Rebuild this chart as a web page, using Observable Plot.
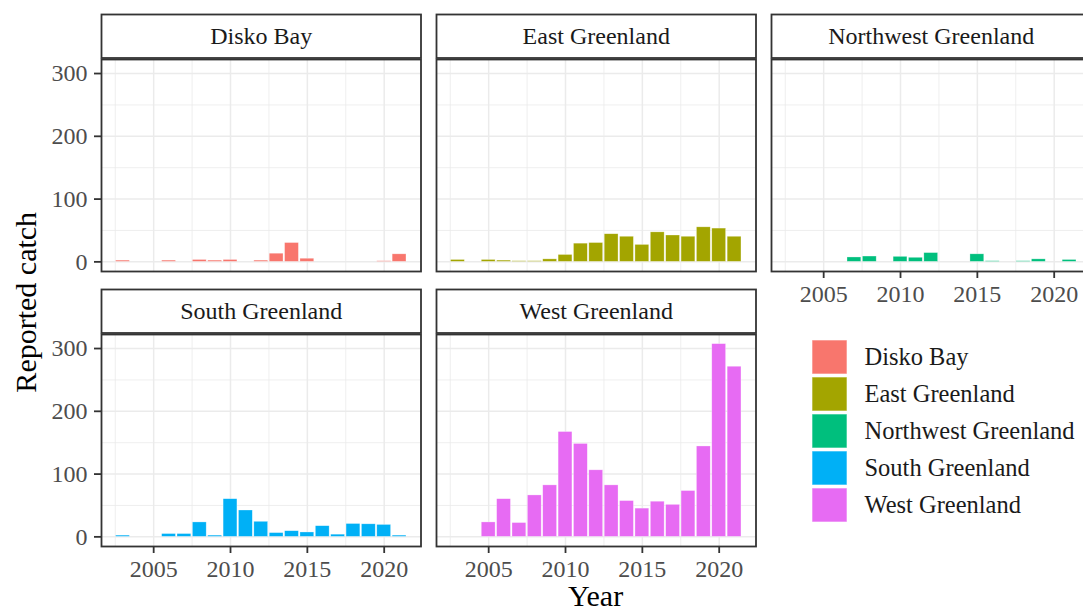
<!DOCTYPE html>
<html>
<head>
<meta charset="utf-8">
<script src="https://cdn.jsdelivr.net/npm/d3@7"></script>
<script src="https://cdn.jsdelivr.net/npm/@observablehq/plot@0.6"></script>
<style>
  html, body { margin: 0; padding: 0; background: #fff; overflow: hidden; }
  #chart { position: relative; width: 1083px; height: 611px; overflow: hidden;
           font-family: "Liberation Serif", "Times New Roman", serif; }
  #chart svg { position: absolute; overflow: visible; }
</style>
</head>
<body>
<div id="chart"></div>
<script>
// Reported catch by region and year
const years = [2003, 2004, 2005, 2006, 2007, 2008, 2009, 2010, 2011, 2012,
               2013, 2014, 2015, 2016, 2017, 2018, 2019, 2020, 2021];
const regions = ["Disko Bay", "East Greenland", "Northwest Greenland", "South Greenland", "West Greenland"];
const colors = ["#F8766D", "#A3A500", "#00BF7D", "#00B0F6", "#E76BF3"];

const diskoBay           = [2, null, null, 2, null, 3, 2, 3, null, 2, 13, 30, 5, null, null, null, null, 1, 12];
const eastGreenland      = [3, null, 3, 2, 1, 1, 4, 11, 29, 30, 44, 40, 27, 47, 42, 40, 55, 53, 40];
const northwestGreenland = [null, null, null, null, 7, 8.5, null, 8, 6.5, 14, null, null, 12, 1, null, 1, 4, null, 3];
const southGreenland     = [2, null, null, 4.5, 4.5, 23, 2, 60, 42, 24, 6, 9, 7, 17, 3.5, 20.5, 20, 19, 2];
const westGreenland      = [null, null, 23, 60, 22, 66, 82, 167, 148, 106, 82, 57, 45, 56, 51, 73, 144, 307, 271];
const series = [diskoBay, eastGreenland, northwestGreenland, southGreenland, westGreenland];

// axis ticks and grid lines
const yTicks = [0, 100, 200, 300];
const yMinor = [50, 150, 250];
const xTicks = [2005, 2010, 2015, 2020];
const xMinor = [2002.5, 2007.5, 2012.5, 2017.5];

// shared scales: bar width 0.9 year, 5% padding on both axes
const barHalf = 0.45;
const xLo = d3.min(years) - barHalf, xHi = d3.max(years) + barHalf;
const xPad = (xHi - xLo) * 0.05;
const xDomain = [xLo - xPad, xHi + xPad];
const yMax = d3.max(series.flat());
const yDomain = [-yMax * 0.05, yMax * 1.05];

// panel grid layout (3 columns, wrapped)
const panelW = 319.5, panelH = 212, stripH = 45;
const panelLeft = c => 100.5 + c * 335.3;
const panelTop = [59, 333.5];
const mT = 50, mB = 50;

const chart = document.getElementById("chart");
const ink = "#333333";

regions.forEach((name, i) => {
  const row = Math.floor(i / 3), col = i % 3;
  const mL = col === 0 ? 60 : 8, mR = 8;
  const data = years.map((year, j) => ({year, value: series[i][j]})).filter(d => d.value != null);
  const showY = col === 0;
  const showX = row === 1 || i + 3 >= regions.length;

  const marks = [
    // strip header box
    Plot.frame({fill: "white", stroke: ink, strokeWidth: 1.8, insetTop: -stripH, insetBottom: panelH + 1.5}),
    Plot.ruleY(yMinor, {stroke: "#EBEBEB", strokeWidth: 0.8}),
    Plot.ruleX(xMinor, {stroke: "#EBEBEB", strokeWidth: 0.8}),
    Plot.ruleY(yTicks, {stroke: "#EBEBEB", strokeWidth: 1.5}),
    Plot.ruleX(xTicks, {stroke: "#EBEBEB", strokeWidth: 1.5}),
    Plot.rect(data, {
      x1: d => d.year - barHalf, x2: d => d.year + barHalf,
      y1: 0, y2: "value",
      fill: colors[i], stroke: "white", strokeWidth: 0.6, strokeOpacity: 0.5
    }),
    Plot.frame({stroke: ink, strokeWidth: 1.8}),
    Plot.text([name], {frameAnchor: "top", lineAnchor: "middle", dy: -stripH / 2 - 1, fontSize: 24, fill: "#1A1A1A", text: d => d})
  ];
  if (showY) marks.push(Plot.axisY({
    ticks: yTicks, tickSize: 7, tickPadding: 7, fontSize: 24,
    fill: "#4D4D4D", stroke: ink, strokeWidth: 1.8, label: null
  }));
  if (showX) marks.push(Plot.axisX({
    ticks: xTicks, tickSize: 7, tickPadding: 6, fontSize: 24, tickFormat: d => String(d),
    fill: "#4D4D4D", stroke: ink, strokeWidth: 1.8, label: null
  }));

  const svg = Plot.plot({
    width: panelW + mL + mR,
    height: panelH + mT + mB,
    marginLeft: mL, marginRight: mR, marginTop: mT, marginBottom: mB,
    x: {domain: xDomain, axis: null},
    y: {domain: yDomain, axis: null},
    style: {background: "transparent", overflow: "visible", fontFamily: "Liberation Serif", maxWidth: "none"},
    marks
  });
  svg.style.left = (panelLeft(col) - mL) + "px";
  svg.style.top = (panelTop[row] - mT) + "px";
  chart.appendChild(svg);
});

// legend: one swatch per region
const keyStep = 37.85, keySize = 34.4;
const legend = Plot.plot({
  width: 35 + 240, height: keyStep * (regions.length - 1) + keySize,
  marginLeft: 0, marginRight: 240, marginTop: 0, marginBottom: 0,
  y: {type: "band", domain: regions, axis: null, paddingInner: (keyStep - keySize) / keyStep, paddingOuter: 0},
  color: {domain: regions, range: colors},
  style: {background: "transparent", overflow: "visible", fontFamily: "Liberation Serif", maxWidth: "none"},
  marks: [
    Plot.cell(regions, {y: d => d, fill: d => d, stroke: "white", strokeOpacity: 0.6, strokeWidth: 1}),
    Plot.text(regions, {y: d => d, text: d => d, frameAnchor: "right", dx: 17, textAnchor: "start", fontSize: 24.5, fill: "#1A1A1A"})
  ]
});
legend.style.left = "811.7px";
legend.style.top = "338.3px";
chart.appendChild(legend);

// axis titles
const titles = d3.select(chart).append("svg")
  .attr("width", 1083).attr("height", 611)
  .style("left", "0px").style("top", "0px")
  .attr("font-family", "Liberation Serif").attr("font-size", 30).attr("fill", "#000");
titles.append("text")
  .attr("x", (panelLeft(0) + panelLeft(2) + panelW) / 2).attr("y", 606)
  .attr("text-anchor", "middle").text("Year");
titles.append("text")
  .attr("transform", `translate(36,${(panelTop[0] + panelTop[1] + panelH) / 2}) rotate(-90)`)
  .attr("text-anchor", "middle").text("Reported catch");
</script>
</body>
</html>
